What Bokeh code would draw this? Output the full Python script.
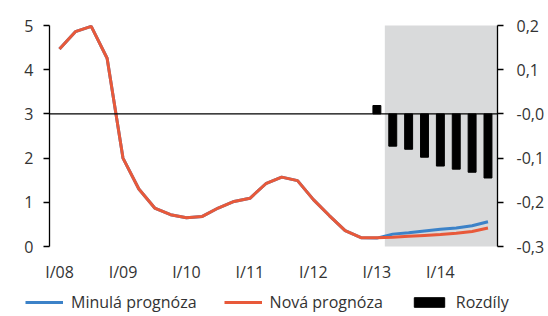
from bokeh.plotting import figure
from bokeh.models import (Range1d, LinearAxis, FixedTicker, BoxAnnotation,
                          Legend, LegendItem)
from bokeh.embed import file_html
from bokeh.resources import INLINE

# quarters I/08 .. IV/14 (index 0..27)
quarters = list(range(28))
tick_pos = [0, 4, 8, 12, 16, 20, 24]
tick_labels = ["I/08", "I/09", "I/10", "I/11", "I/12", "I/13", "I/14"]

nova = [4.47, 4.86, 4.98, 4.26, 2.00, 1.30, 0.87, 0.72, 0.65, 0.68,
        0.87, 1.02, 1.09, 1.42, 1.57, 1.49, 1.06, 0.70, 0.36, 0.20,
        0.20, 0.21, 0.23, 0.25, 0.27, 0.30, 0.34, 0.42]
minula = [4.47, 4.86, 4.98, 4.26, 2.00, 1.30, 0.87, 0.72, 0.65, 0.68,
          0.87, 1.02, 1.09, 1.42, 1.57, 1.49, 1.06, 0.70, 0.36, 0.20,
          0.19, 0.28, 0.31, 0.35, 0.39, 0.42, 0.47, 0.56]

diff_q = [20, 21, 22, 23, 24, 25, 26, 27]
rozdily = [0.019, -0.073, -0.080, -0.098, -0.118, -0.125, -0.132, -0.145]

left_ticks = [0, 1, 2, 3, 4, 5]
right_ticks = [-0.3, -0.2, -0.1, 0.0, 0.1, 0.2]
right_labels = ["-0,3", "-0,2", "-0,1", "-0,0", "0,1", "0,2"]

# layout constants (plot area spans quarters X0..X1, left 0..5, right -0.3..0.2)
X0, X1 = -0.63, 27.6
PX_Q = 448 / (X1 - X0)          # pixels per quarter
PX_U = 221 / 5.0                # pixels per left unit
W, H = 548, 316
LEFT, TOP, BOTTOM = 49, 25, 70
xs = X0 - LEFT / PX_Q
xe = xs + W / PX_Q
ys = -BOTTOM / PX_U
ye = 5 + TOP / PX_U

FONT = "Open Sans"
TXT = "#333333"
FS = "16px"

p = figure(frame_width=W, frame_height=H, output_backend="svg", toolbar_location=None,
           x_range=Range1d(xs, xe), y_range=Range1d(ys, ye),
           min_border_left=0, min_border_right=0, min_border_top=0,
           min_border_bottom=0)
p.outline_line_color = None
p.grid.visible = False
p.background_fill_color = "white"
p.border_fill_color = "white"

p.extra_y_ranges = {"diff": Range1d(-0.3 + ys / 10, 0.2 + (ye - 5) / 10)}

shade = BoxAnnotation(left=20.5, right=X1, bottom=0, top=5, fill_color="#D9DADB",
                      fill_alpha=1.0, line_color=None, level="underlay")
p.add_layout(shade)

zero = BoxAnnotation(left=X0, right=X1, bottom=3, top=3, fill_alpha=0,
                     line_color="black", line_alpha=1.0, line_width=1.3)
p.add_layout(zero)

bars = p.vbar(x=diff_q, top=rozdily, bottom=0, width=0.5, color="black",
              y_range_name="diff")
l_min = p.line(quarters, minula, line_color="#3C82C8", line_width=3)
l_nova = p.line(quarters, nova, line_color="#E8593A", line_width=3)

# left axis
ya = p.yaxis[0]
ya.fixed_location = X0
ya.bounds = (0, 5)
ya.ticker = FixedTicker(ticks=left_ticks)
ya.minor_tick_line_color = None
ya.major_tick_out = 6
ya.major_tick_in = 0
ya.axis_line_color = "black"
ya.axis_line_width = 1.3
ya.major_tick_line_width = 1.3
ya.major_label_standoff = 10
ya.major_label_text_font = FONT
ya.major_label_text_font_size = FS
ya.major_label_text_color = TXT

# right axis
ra = LinearAxis(y_range_name="diff", fixed_location=X1, bounds=(-0.3, 0.2))
ra.ticker = FixedTicker(ticks=right_ticks)
ra.major_label_overrides = {t: l for t, l in zip(right_ticks, right_labels)}
ra.minor_tick_line_color = None
ra.major_tick_out = 6
ra.major_tick_in = 0
ra.axis_line_color = "black"
ra.axis_line_width = 1.3
ra.major_tick_line_width = 1.3
ra.major_label_standoff = 13
ra.major_label_text_font = FONT
ra.major_label_text_font_size = FS
ra.major_label_text_color = TXT
p.add_layout(ra, "right")

# x axis
xa = p.xaxis[0]
xa.fixed_location = 0
xa.ticker = FixedTicker(ticks=tick_pos)
xa.major_label_overrides = {t: l for t, l in zip(tick_pos, tick_labels)}
xa.axis_line_color = None
xa.major_tick_line_color = None
xa.minor_tick_line_color = None
xa.major_label_standoff = 8
xa.major_label_text_font = FONT
xa.major_label_text_font_size = FS
xa.major_label_text_color = TXT

legend = Legend(items=[LegendItem(label="Minulá prognóza", renderers=[l_min]),
                       LegendItem(label="Nová prognóza", renderers=[l_nova]),
                       LegendItem(label="Rozdíly", renderers=[bars])],
                orientation="horizontal", location=(25, 3),
                label_text_font=FONT, label_text_font_size=FS,
                label_text_color=TXT, glyph_width=38, glyph_height=12,
                spacing=27, label_standoff=8, padding=0, margin=0,
                border_line_color=None, background_fill_alpha=0)
p.add_layout(legend, "center")

open("out.html", "w").write(file_html(p, INLINE))
